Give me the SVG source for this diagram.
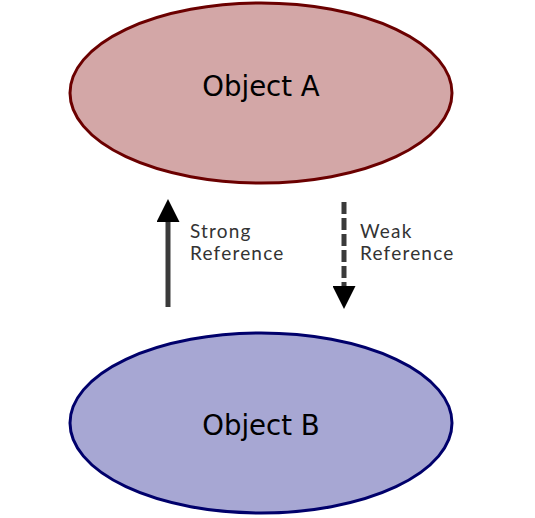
<svg xmlns="http://www.w3.org/2000/svg" width="535" height="518" viewBox="0 0 535 518">
<style>
.obj{font-family:"DejaVu Sans",sans-serif;font-size:27.6px;fill:#000;text-anchor:middle}
.lbl{font-family:"Lato","Noto Sans",sans-serif;font-size:19px;fill:#333;letter-spacing:1.2px}
.ln{stroke:#3a3a3a;stroke-width:5;fill:none}
</style>
<defs>
<marker id="ah" viewBox="0 0 10 10" refX="0" refY="5" markerWidth="4.6" markerHeight="4.6" markerUnits="strokeWidth" orient="auto">
<path d="M0,0 L10,5 L0,10 z" fill="#000"/>
</marker>
</defs>
<rect width="535" height="518" fill="#fff"/>
<g id="objectA">
<ellipse cx="261" cy="93" rx="191" ry="90" fill="#d3a7a7" stroke="#6b0000" stroke-width="3"/>
<text class="obj" x="261" y="96">Object A</text>
</g>
<g id="objectB">
<ellipse cx="261" cy="423" rx="191" ry="90" fill="#a7a7d3" stroke="#00006b" stroke-width="3"/>
<text class="obj" x="261" y="435">Object B</text>
</g>
<g id="connectors">
<line class="ln" x1="168" y1="307" x2="168" y2="222" marker-end="url(#ah)"/>
<line class="ln" x1="344" y1="202" x2="344" y2="286" stroke-dasharray="12,4" marker-end="url(#ah)"/>
<text class="lbl" x="190" y="238">Strong</text>
<text class="lbl" x="190" y="260">Reference</text>
<text class="lbl" x="360" y="238">Weak</text>
<text class="lbl" x="360" y="260">Reference</text>
</g>
</svg>
